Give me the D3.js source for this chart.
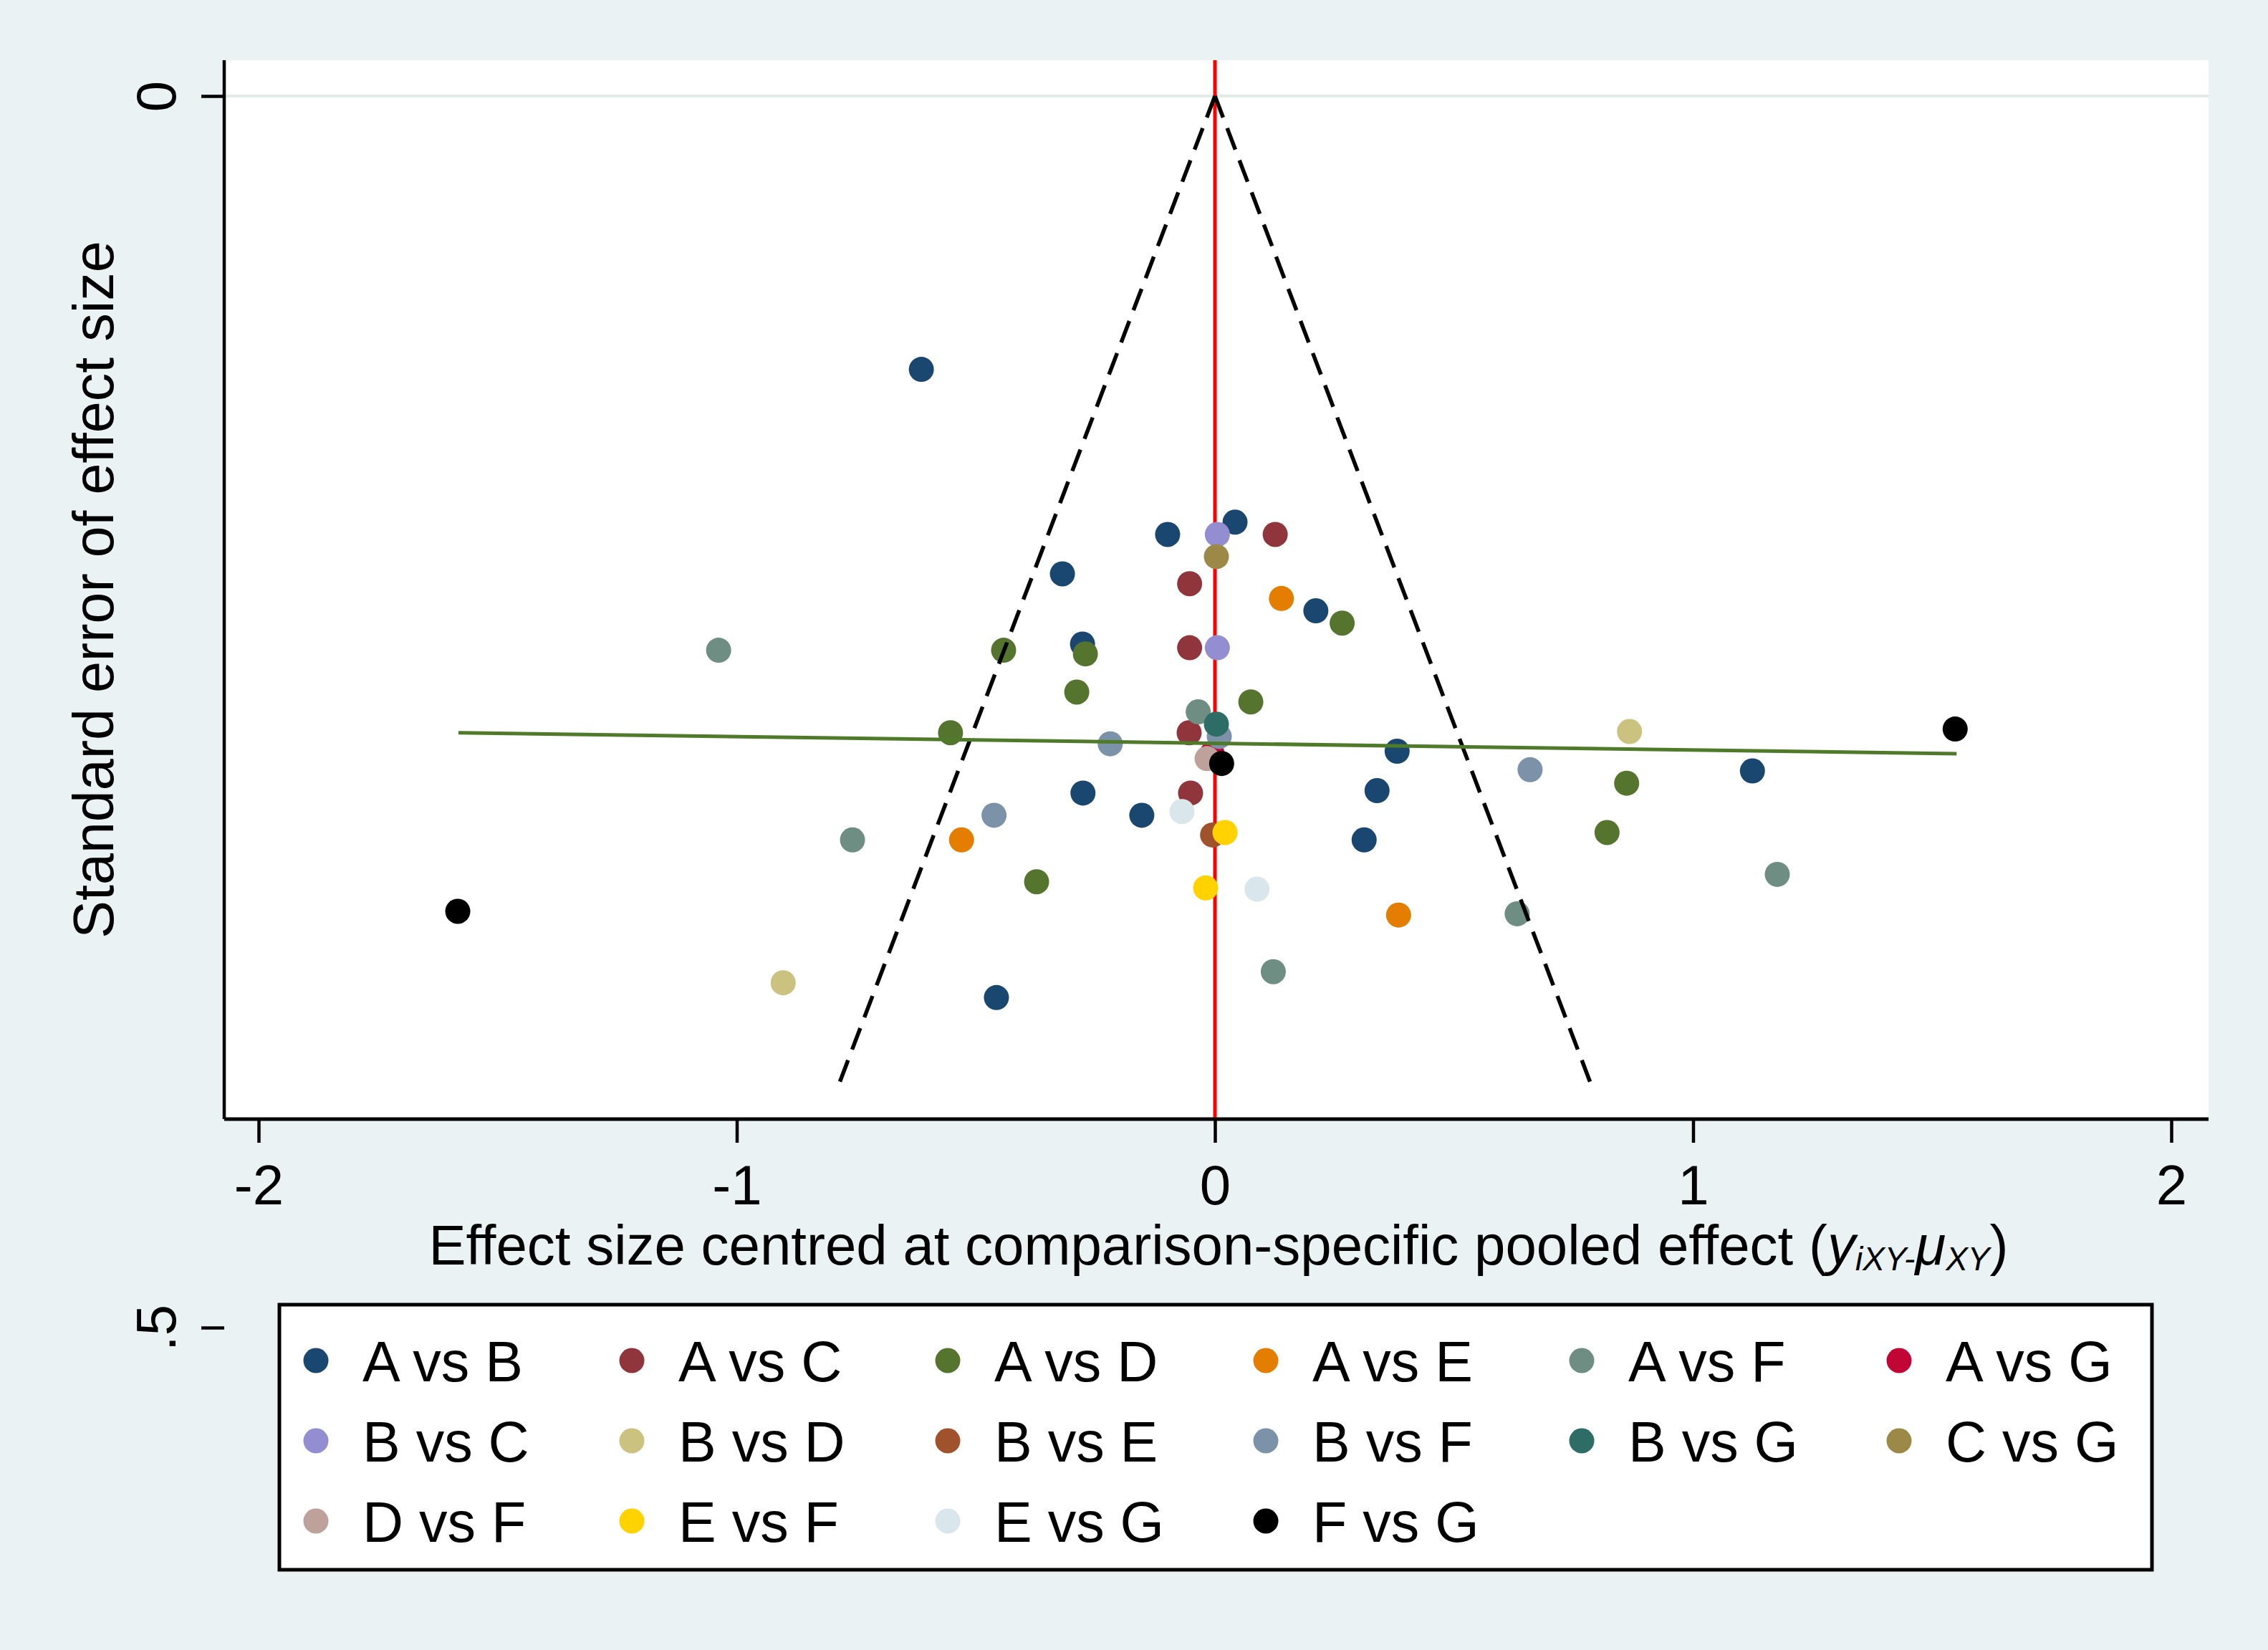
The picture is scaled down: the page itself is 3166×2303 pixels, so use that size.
<!DOCTYPE html>
<html>
  <head>
    <meta charset="utf-8">
    <title>Comparison-adjusted funnel plot</title>
    <script src="https://d3js.org/d3.v7.min.js" type="text/javascript"></script>
    <style>
      html, body { margin: 0; padding: 0; background: #eaf2f3; }
      text { font-family: "Liberation Sans", Arial, Helvetica, sans-serif; fill: #000; }
    </style>
  </head>
  <body>
    <script>
      // comparison labels, in legend / drawing order
      var comparisons = ["A vs B", "A vs C", "A vs D", "A vs E", "A vs F", "A vs G",
                         "B vs C", "B vs D", "B vs E", "B vs F", "B vs G", "C vs G",
                         "D vs F", "E vs F", "E vs G", "F vs G"];

      // stata s2color palette (+ black for the 16th series)
      var palette = ["#1a476f", "#90353b", "#55752f", "#e37e00", "#6e8e84", "#c10534",
                     "#938dd2", "#cac27e", "#a0522d", "#7b92a8", "#2d6d66", "#9c8847",
                     "#bfa19c", "#ffd200", "#d9e6eb", "#000000"];

      // [centred effect size, standard error]
      var AvsB = [[-0.614, 0.111], [0.042, 0.173], [-0.099, 0.178], [-0.319, 0.194], [0.211, 0.209],
                  [-0.277, 0.2225], [0.381, 0.266], [-0.276, 0.283], [0.339, 0.282], [-0.153, 0.292],
                  [0.312, 0.302], [1.124, 0.274], [-0.457, 0.366]];
      var AvsC = [[0.126, 0.178], [-0.053, 0.198], [-0.053, 0.224], [-0.054, 0.2585], [-0.051, 0.283]];
      var AvsD = [[0.266, 0.214], [-0.442, 0.225], [-0.271, 0.2265], [-0.289, 0.242], [0.075, 0.246],
                  [-0.553, 0.2585], [0.861, 0.279], [0.82, 0.299], [-0.373, 0.319]];
      var AvsE = [[0.139, 0.204], [-0.530, 0.302], [0.384, 0.3325]];
      var AvsF = [[-1.038, 0.225], [-0.035, 0.250], [-0.758, 0.302], [1.176, 0.316], [0.632, 0.332],
                  [0.122, 0.3555]];
      var AvsG = [[-0.006, 0.267]];
      var BvsC = [[0.005, 0.178], [0.005, 0.224]];
      var BvsD = [[0.867, 0.258], [-0.903, 0.360]];
      var BvsE = [[-0.005, 0.300]];
      var BvsF = [[-0.219, 0.263], [0.659, 0.2735], [-0.462, 0.292], [0.009, 0.260]];
      var BvsG = [[0.003, 0.255]];
      var CvsG = [[0.003, 0.187]];
      var DvsF = [[-0.0165, 0.269]];
      var EvsF = [[0.021, 0.299], [-0.0195, 0.3215]];
      var EvsG = [[-0.069, 0.2905], [0.088, 0.322]];
      var FvsG = [[-1.5835, 0.331], [1.548, 0.257], [0.014, 0.271]];

      var seriesPoints = [AvsB, AvsC, AvsD, AvsE, AvsF, AvsG, BvsC, BvsD, BvsE, BvsF,
                          BvsG, CvsG, DvsF, EvsF, EvsG, FvsG];

      // fitted line (effect vs SE) and pseudo 95% funnel
      var fitX = [-1.582, 1.551];
      var fitSE = [0.2585, 0.267];
      var funnelSEmax = 0.401;
      var funnelZ = 1.96;

      // axis ticks
      var xTicks = [-2, -1, 0, 1, 2];
      var yTicks = [0, 0.5];
      var yTickLabels = ["0", ".5"];

      var w = 3166, h = 2303;
      var plotLeft = 313, plotRight = 3083, plotTop = 84, plotBottom = 1562;
      var r = 17.5;

      var x = d3.scaleLinear().domain([-2, 2]).range([361, 3031]);
      var y = d3.scaleLinear().domain([0, 0.5]).range([134, 1853]);

      var svg = d3.select("body")
                .append("svg")
                .attr("width", w)
                .attr("height", h);

      svg.append("rect")
         .attr("width", w).attr("height", h)
         .attr("fill", "#eaf2f3");

      // plot region
      svg.append("rect")
         .attr("x", plotLeft).attr("y", plotTop)
         .attr("width", plotRight - plotLeft).attr("height", plotBottom - plotTop)
         .attr("fill", "#ffffff");

      // grid line at 0
      svg.append("line")
         .attr("x1", plotLeft).attr("x2", plotRight)
         .attr("y1", y(0)).attr("y2", y(0))
         .attr("stroke", "#e3ebe6").attr("stroke-width", 4);

      // reference line at zero
      svg.append("line")
         .attr("x1", x(0)).attr("x2", x(0))
         .attr("y1", plotTop).attr("y2", plotBottom)
         .attr("stroke", "#ff0000").attr("stroke-width", 5);

      // markers, one group per comparison
      var series = comparisons.map(function(name, i) {
        return { name: name, color: palette[i], pts: seriesPoints[i] };
      });

      svg.selectAll(".series")
         .data(series)
         .enter().append("g")
         .attr("class", "series")
         .attr("fill", function(d) { return d.color; })
         .selectAll("circle")
         .data(function(d) { return d.pts; })
         .enter().append("circle")
         .attr("cx", function(d) { return x(d[0]); })
         .attr("cy", function(d) { return y(d[1]); })
         .attr("r", r);

      // funnel
      var line = d3.line()
                   .x(function(d) { return x(d[0]); })
                   .y(function(d) { return y(d[1]); });

      [-1, 1].forEach(function(s) {
        svg.append("path")
           .attr("d", line([[0, 0], [s * funnelZ * funnelSEmax, funnelSEmax]]))
           .attr("fill", "none")
           .attr("stroke", "#000")
           .attr("stroke-width", 5.5)
           .attr("stroke-dasharray", "32,16");
      });

      // fitted line
      svg.append("path")
         .attr("d", line(fitX.map(function(v, i) { return [v, fitSE[i]]; })))
         .attr("fill", "none")
         .attr("stroke", "#4f7a2a")
         .attr("stroke-width", 5);

      // x axis
      var xAxis = svg.append("g")
                     .attr("transform", "translate(0," + plotBottom + ")")
                     .call(d3.axisBottom(x)
                             .tickValues(xTicks)
                             .tickFormat(function(d) { return String(d); })
                             .tickSize(33)
                             .tickPadding(31));
      xAxis.select(".domain").remove();
      xAxis.selectAll(".tick line").attr("stroke", "#000").attr("stroke-width", 4.5);
      xAxis.selectAll(".tick text")
           .attr("font-size", 78)
           .attr("font-family", "Liberation Sans, Arial, sans-serif")
           .attr("fill", "#000");
      svg.append("line")
         .attr("x1", plotLeft).attr("x2", plotRight)
         .attr("y1", plotBottom).attr("y2", plotBottom)
         .attr("stroke", "#000").attr("stroke-width", 5);

      // y axis
      var yAxis = svg.append("g")
                     .attr("transform", "translate(" + plotLeft + ",0)")
                     .call(d3.axisLeft(y)
                             .tickValues(yTicks)
                             .tickFormat(function(d, i) { return yTickLabels[i]; })
                             .tickSize(32));
      yAxis.select(".domain").remove();
      yAxis.selectAll(".tick line").attr("stroke", "#000").attr("stroke-width", 4.5);
      yAxis.selectAll(".tick text")
           .attr("x", null).attr("dy", null)
           .attr("transform", "translate(-68,0) rotate(-90)")
           .attr("text-anchor", "middle")
           .attr("font-size", 78)
           .attr("font-family", "Liberation Sans, Arial, sans-serif")
           .attr("fill", "#000");
      svg.append("line")
         .attr("x1", plotLeft).attr("x2", plotLeft)
         .attr("y1", plotTop).attr("y2", plotBottom)
         .attr("stroke", "#000").attr("stroke-width", 4.5);

      // axis titles
      svg.append("text")
         .attr("transform", "translate(158," + ((plotTop + plotBottom) / 2) + ") rotate(-90)")
         .attr("text-anchor", "middle")
         .attr("font-size", 79)
         .text("Standard error of effect size");

      var xt = svg.append("text")
                  .attr("x", 1701).attr("y", 1765)
                  .attr("text-anchor", "middle")
                  .attr("font-size", 78);
      xt.append("tspan").text("Effect size centred at comparison-specific pooled effect (");
      xt.append("tspan").attr("font-style", "italic").text("y");
      xt.append("tspan").attr("font-style", "italic").attr("font-size", 46).attr("dy", 8).text("iXY-");
      xt.append("tspan").attr("font-style", "italic").attr("dy", -8).text("\u03bc");
      xt.append("tspan").attr("font-style", "italic").attr("font-size", 46).attr("dy", 8).text("XY");
      xt.append("tspan").attr("dy", -8).text(")");

      // legend
      var legX = 390, legY = 1821, legW = 2614, legH = 370;
      var colX = [441, 882, 1323, 1767, 2208, 2651];
      var rowY = [1899, 2011, 2123];

      svg.append("rect")
         .attr("x", legX).attr("y", legY)
         .attr("width", legW).attr("height", legH)
         .attr("fill", "#fff")
         .attr("stroke", "#000")
         .attr("stroke-width", 5);

      var item = svg.selectAll(".legend-item")
                    .data(series)
                    .enter().append("g")
                    .attr("class", "legend-item")
                    .attr("transform", function(d, i) {
                      return "translate(" + colX[i % 6] + "," + rowY[Math.floor(i / 6)] + ")";
                    });
      item.append("circle")
          .attr("r", r)
          .attr("fill", function(d) { return d.color; });
      item.append("text")
          .attr("x", 65)
          .attr("y", 28.5)
          .attr("font-size", 79)
          .text(function(d) { return d.name; });
    </script>
  </body>
</html>
